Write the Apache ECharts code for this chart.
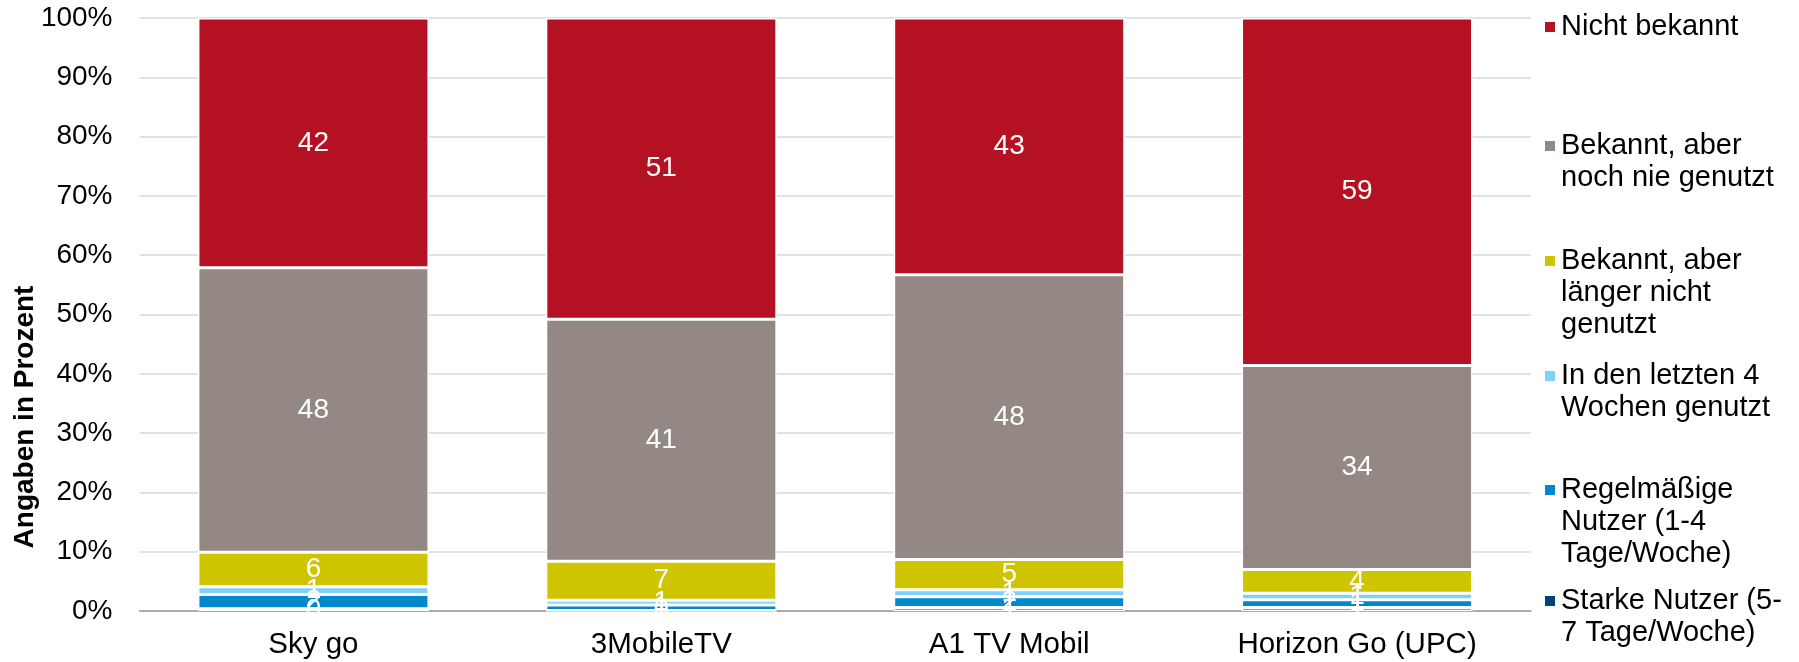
<!DOCTYPE html>
<html>
<head>
<meta charset="utf-8">
<script src="https://cdn.jsdelivr.net/npm/echarts@6/dist/echarts.min.js"></script>
<style>
  html, body { margin: 0; padding: 0; background: #fff; }
  #main { width: 1799px; height: 662px; }
</style>
</head>
<body>
<div id="main"></div>
<script>
const categories = ['Sky go', '3MobileTV', 'A1 TV Mobil', 'Horizon Go (UPC)']

// bottom to top of each bar
const seriesNames = [
  'Starke Nutzer (5-\n7 Tage/Woche)',
  'Regelmäßige\nNutzer (1-4\nTage/Woche)',
  'In den letzten 4\nWochen genutzt',
  'Bekannt, aber\nlänger nicht\ngenutzt',
  'Bekannt, aber\nnoch nie genutzt',
  'Nicht bekannt'
]
const starke = [0.4, 0.1, 0.6, 0.6]
const regelmaessig = [2.4, 0.9, 1.8, 1.3]
const letzte4Wochen = [1.3, 0.8, 1.2, 1.1]
const laengerNicht = [5.8, 6.6, 5.1, 4.0]
const nieGenutzt = [48, 40.8, 48, 34.4]
const nichtBekannt = [42.1, 50.8, 43.3, 58.6]

const colors = ['#00427A', '#0088CA', '#7FD0FF', '#CFC400', '#938883', '#B41222']
const values = [starke, regelmaessig, letzte4Wochen, laengerNicht, nieGenutzt, nichtBekannt]

const font = 'Liberation Sans, Arial, sans-serif'
const fs = 28
const legendFs = 29
const lh = 32

// icon centre (y) of each legend entry, top to bottom
const legendY = [27, 146, 261, 376, 490, 601]

const chart = echarts.init(document.getElementById('main'))

// blank lines in front keep the icon level with the first text line
const legends = seriesNames.slice().reverse().map((name, i) => {
  const n = name.split('\n').length
  return {
    data: [name],
    orient: 'vertical',
    left: 1543,
    top: legendY[i] - (2 * n - 1) * lh / 2,
    padding: 0,
    itemWidth: 12,
    itemHeight: 12,
    icon: 'rect',
    selectedMode: false,
    formatter: nm => '\n'.repeat(n - 1) + nm,
    textStyle: {
      fontFamily: font,
      fontSize: legendFs,
      lineHeight: lh,
      color: '#000'
    }
  }
})

chart.setOption({
  animation: false,
  textStyle: { fontFamily: font },
  grid: { left: 139.5, right: 268, top: 18, bottom: 51 },
  legend: legends,
  xAxis: {
    type: 'category',
    data: categories,
    axisTick: { show: false },
    axisLine: { lineStyle: { color: '#999', width: 1.5 } },
    axisLabel: { color: '#000', fontSize: 29.5, fontFamily: font, margin: 19 }
  },
  yAxis: {
    type: 'value',
    min: 0,
    max: 100,
    interval: 10,
    axisLabel: { color: '#000', fontSize: fs, fontFamily: font, formatter: '{value}%', margin: 27 },
    splitLine: { lineStyle: { color: '#D9D9D9', width: 1.5 } }
  },
  graphic: [{
    type: 'text',
    x: 25,
    y: 417,
    rotation: Math.PI / 2,
    style: {
      text: 'Angaben in Prozent',
      font: 'bold ' + fs + 'px ' + font,
      fill: '#000',
      align: 'center',
      verticalAlign: 'middle'
    }
  }],
  series: seriesNames.map((name, i) => ({
    name: name,
    type: 'bar',
    stack: 'total',
    barWidth: '66.4%',
    data: values[i],
    itemStyle: { color: colors[i], borderColor: '#fff', borderWidth: 1.5 },
    label: {
      show: true,
      position: 'inside',
      color: '#fff',
      fontSize: fs,
      fontFamily: font,
      formatter: p => Math.round(p.value)
    }
  }))
})
</script>
</body>
</html>
